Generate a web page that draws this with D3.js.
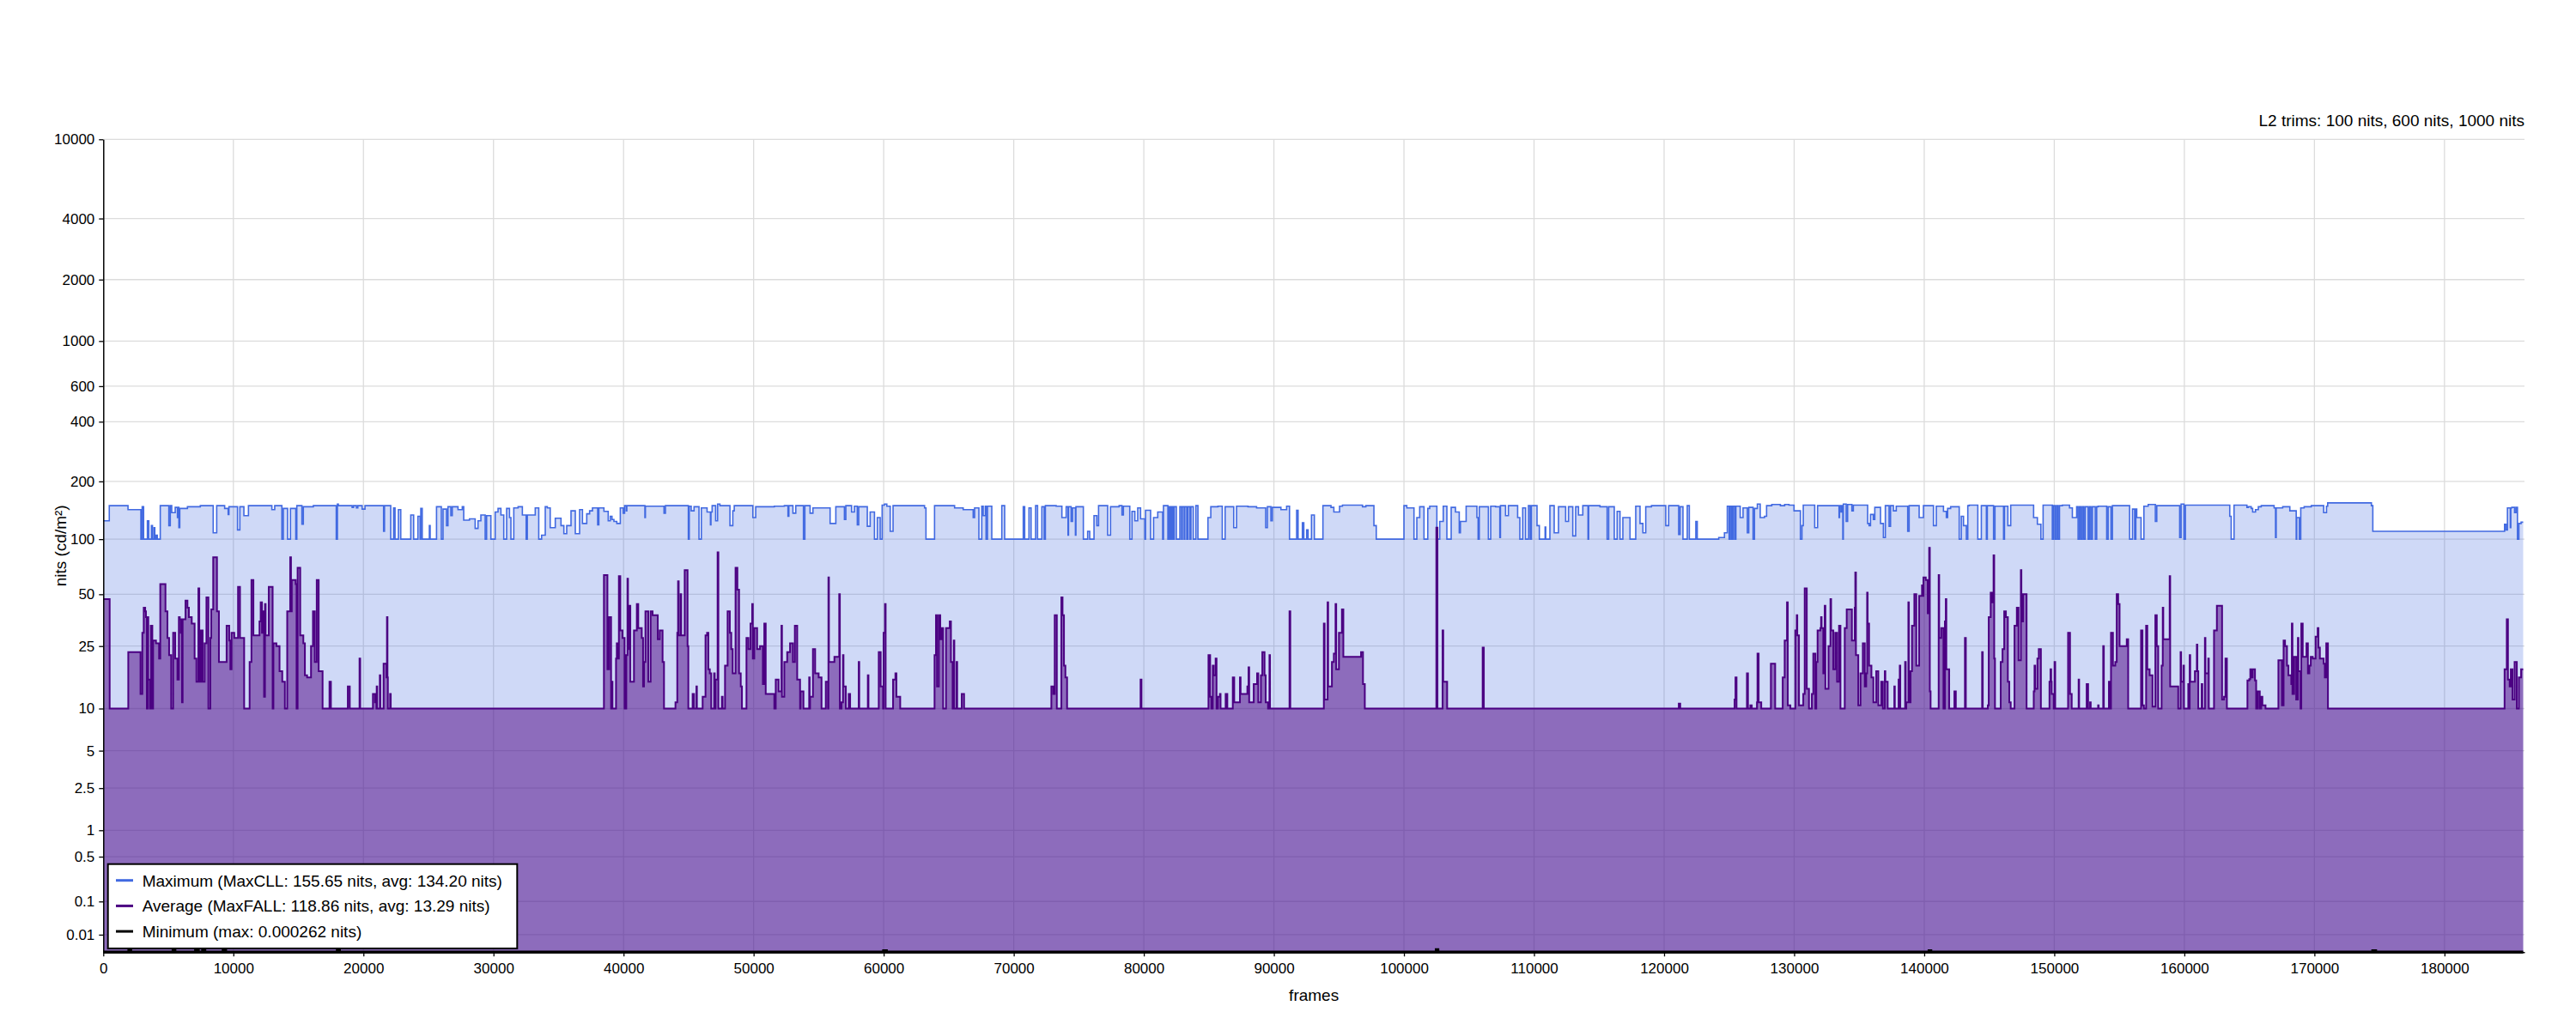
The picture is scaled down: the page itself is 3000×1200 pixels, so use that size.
<!DOCTYPE html>
<html>
<head>
<meta charset="utf-8">
<script src="https://cdn.jsdelivr.net/npm/d3@7"></script>
<style>
body { margin: 0; background: #fff; }
text { font-family: "Liberation Sans", Arial, sans-serif; }
</style>
</head>
<body>
<script>
var width = 3000,
    height = 1200;

var titleText = "L2 trims: 100 nits, 600 nits, 1000 nits";
var yTickNits = [10000, 4000, 2000, 1000, 600, 400, 200, 100, 50, 25, 10, 5, 2.5, 1, 0.5, 0.1, 0.01];
var yTickLabels = ["10000", "4000", "2000", "1000", "600", "400", "200", "100", "50", "25", "10", "5", "2.5", "1", "0.5", "0.1", "0.01"];
var xTicks = [0, 10000, 20000, 30000, 40000, 50000, 60000, 70000, 80000, 90000, 100000, 110000, 120000, 130000, 140000, 150000, 160000, 170000, 180000];
var lastFrame = 186050;
var legendLabels = ["Maximum (MaxCLL: 155.65 nits, avg: 134.20 nits)",
                    "Average (MaxFALL: 118.86 nits, avg: 13.29 nits)",
                    "Minimum (max: 0.000262 nits)"];

// [first frame, nits] steps
var maxSteps = [[0,125],[460,150],[1900,143],[2890,100],[2990,148],[3100,100],[3390,125],[3500,100],[3700,118],[3780,100],[3900,115],[3960,100],[4050,105],[4150,100],
[4380,150],[5040,118],[5150,150],[5260,138],[5530,147],[5700,130],[5760,147],[5810,115],[5880,145],[6470,148],[7460,150],[8450,108],[8720,150],[9330,145],[9600,135],[9660,148],
[10320,112],[10500,148],[10810,133],[11160,150],[12960,143],[13180,150],[13730,100],[13840,145],[14170,100],[14390,145],[14800,100],[14880,150],[15270,120],[15380,148],[16150,150],[17910,100],[18000,153],[18070,150],
[19130,147],[19240,150],[19460,146],[19570,150],[19900,144],[20120,150],[21550,110],[21620,150],[22100,100],[22320,146],[22430,100],[22690,143],[22870,100],[23640,134],[23860,100],[24190,132],[24360,100],[24410,145],[24520,100],[25070,118],[25130,100],
[25620,148],[25990,100],[26120,144],[26390,118],[26500,148],[26720,133],[26830,148],[27270,143],[27600,148],[27710,126],[28150,128],[28590,114],[28810,125],[29030,134],[29360,100],[29470,133],[29800,100],[30130,139],[30350,145],[30570,134],[30790,100],
[31010,145],[31230,130],[31340,100],[31560,146],[31890,148],[32220,134],[32510,100],[32600,134],[33210,146],[33480,100],[33700,105],[33980,148],[34140,146],[34360,115],[34750,129],[35190,118],[35410,107],[35630,118],[35960,141],[36290,107],[36620,143],[36840,121],[37170,136],[37390,141],
[37610,146],[38010,119],[38100,146],[38490,140],[38820,125],[38980,132],[39110,127],[39260,124],[39480,121],[39750,146],[39970,137],[40080,150],[40210,141],[40250,150],[41640,130],[41680,149],[43110,137],[43220,150],[44980,100],[45050,149],[45200,141],[45420,148],[45800,100],[45980,146],
[46420,139],[46680,119],[46720,139],[46810,150],[47080,125],[47230,153],[47410,150],[48180,118],[48400,141],[48510,150],[49940,130],[50160,148],[51590,149],[52360,150],[52640,132],[52710,150],[53020,137],[53240,150],[53830,100],[53940,150],[54340,137],[54560,146],
[55880,121],[56320,148],[56980,127],[57090,150],[57530,139],[57750,149],[57970,119],[58080,148],[58740,117],[58960,139],[59290,100],[59510,130],[59730,100],[59880,151],[60060,153],[60240,149],[60500,110],[60720,150],[63140,146],[63250,100],[63910,150],
[65450,146],[66110,143],[66880,130],[66990,146],[67320,100],[67540,149],[67650,133],[67810,149],[67870,100],[67980,149],[68310,100],[69080,150],[69300,100],
[70730,148],[70840,100],[71170,146],[71330,100],[71680,150],[71830,100],[72160,148],[72340,100],[72430,150],[73260,149],[73700,130],[74030,148],[74170,105],[74210,148],[74410,124],[74520,146],[74740,105],[74780,148],[75350,100],[75680,110],[75840,100],
[76170,133],[76390,118],[76520,150],[77220,105],[77440,148],[78100,150],[78320,134],[78430,149],[78920,100],[79090,140],[79310,125],[79530,146],[79750,128],[80080,100],[80130,142],[80520,100],[80750,130],[81070,139],[81450,100],[81510,150],[81850,100],
[81900,148],[82000,100],[82060,148],[82150,100],[82200,148],[82280,100],[82340,148],[82500,100],[82770,148],[82900,100],[82960,148],[83100,100],[83150,148],[83300,100],[83400,148],[83550,100],[83620,148],[83800,100],[84000,150],[84160,100],
[84930,130],[85150,148],[85700,149],[86030,100],[86250,148],[86910,115],[87130,149],[88010,148],[88670,146],[89370,115],[89500,148],[89770,125],[89880,147],[90540,143],[90980,149],[91200,100],[91750,142],[91860,100],[92190,122],[92300,100],[92520,112],[92630,100],
[92890,134],[93110,100],[93770,150],[94390,147],[94610,139],[95050,149],[95270,151],[96810,148],[97070,150],[97690,118],[97870,100],[100000,150],[100220,146],[100770,100],
[100990,130],[101210,148],[101540,100],[101830,145],[101980,149],[102530,100],[102750,124],[103020,149],[103300,100],[103630,147],[103960,139],[104250,108],[104340,124],[104780,149],[105610,130],[105700,100],[105790,148],[106490,100],[106670,149],[107040,148],
[107370,102],[107420,150],[107810,133],[108030,150],[108740,130],[108910,100],[109130,146],[109350,100],[109570,150],[109700,100],[109800,150],[110230,118],[110410,100],[110850,116],[110900,100],[111220,150],[111550,108],[111880,148],[112430,124],[112650,148],
[112980,104],[113200,148],[113420,134],[113750,150],[114150,100],[114200,150],[115070,148],[115620,100],[115740,148],[116170,100],[116390,140],[116610,100],[116830,130],[117170,130],[117380,100],[117820,149],[118150,121],[118370,108],[118590,148],[119030,150],
[120130,118],[120350,150],[121120,106],[121230,148],[121450,100],[121780,150],[121940,100],[122440,124],[122550,100],[124200,102],[124640,108],[124860,149],[125000,100],[125090,149],[125200,100],[125300,149],[125420,100],[125520,149],[125850,130],[126070,146],
[126400,108],[126510,147],[126840,100],[126950,145],[127170,153],[127390,130],[127720,132],[127880,150],[128280,152],[128940,150],[129270,152],[129600,151],[129990,141],[130480,100],[130600,118],[130700,151],[131580,115],[131800,150],
[132680,150],[133450,130],[133490,150],[133600,139],[133650,150],[133740,100],[133780,153],[134000,124],[134110,152],[134440,141],[134550,151],[135650,121],[135760,118],[135870,135],[136090,127],[136200,147],[136640,121],[136860,102],[137010,150],[137300,117],
[137410,150],[137630,141],[137850,149],[138730,110],[138840,150],[139610,130],[139940,150],[140710,118],[140930,149],[141480,140],[141700,130],[141800,145],[142030,148],[142690,100],[142850,132],[143020,118],[143240,100],[143350,150],[143460,151],[144120,100],
[144390,150],[144780,100],[144850,150],[145330,100],[145440,149],[146100,100],[146170,149],[146430,118],[146650,151],[148410,130],[148700,120],[148970,100],[149140,151],[149850,100],[149950,150],[150070,100],[150180,150],[150290,100],[150400,150],[150620,151],
[151170,146],[151390,130],[151720,148],[151830,100],[151940,148],[152050,100],[152160,148],[152270,100],[152380,148],[152600,100],[152710,148],[152820,100],[152930,148],[153150,100],[153260,148],[153370,149],[154030,100],[154140,148],[154360,100],[154470,150],
[155790,100],[156010,144],[156180,100],[156270,144],[156340,130],[156670,100],[156890,149],[157220,152],[157770,124],[157880,150],[159640,102],[159750,153],[159970,100],[160080,151],[163490,132],[163600,100],
[163820,151],[164810,147],[164920,148],[165140,145],[165250,139],[165470,143],[165690,148],[165910,150],[166900,146],[167010,102],[167060,146],[167560,148],[168110,141],[168440,141],[168600,100],[168640,130],[168840,100],[168950,146],[169210,148],[169760,150],
[170710,138],[170930,149],[171020,155],[174380,150],[174490,110],[184620,120],[184730,112],[184840,146],[185060,115],[185100,146],[185170,147],[185390,138],[185500,147],[185610,100],[185720,121],[185890,123]];

var avgSteps = [[0,47],[490,10],[1920,23],[2860,12.5],[3000,30],[3110,42],[3220,40],[3280,37],[3350,10],[3410,37],[3460,15.5],[3580,10],[3650,33],[3770,10],[3830,27],[4050,26],[4290,21],[4380,57],[4780,40],[4930,28],[5060,22],[5220,10],
[5370,30],[5530,21],[5700,15.5],[5810,37],[5880,36],[5960,30],[6000,36],[6050,11],[6100,36],[6320,46],[6470,42],[6580,37],[6800,34],[7020,21],[7160,15],[7310,54],[7380,15],[7510,31],[7640,15],[7790,26],[7930,48],[8080,10],[8230,28],[8300,41],[8450,80],[8740,40],
[8890,20],[9480,33],[9680,27],[9770,18],[9860,30],[10070,28],[10360,55],[10510,28],[10830,10],[11250,20],[11390,60],[11540,29],[12010,35],[12100,45],[12200,30],[12280,40],[12360,12],[12430,44],[12480,29],[12720,55],[13020,10],[13080,26],[13310,25],[13550,17.5],
[13760,15],[13960,10],[14140,40],[14370,80],[14430,40],[14490,60],[14790,57],[14860,10],[14940,70],[15140,29],[15380,26],[15500,16.5],[15670,16],[15970,25],[16120,40],[16260,20],[16410,60],[16560,17.5],[16860,10],[17390,15],[17500,10],
[18800,14],[18950,10],[19700,21],[19750,10],[20730,12.5],[20890,11],[21000,10],[21020,14],[21060,10],[21260,16.5],[21300,10],[21550,19.5],[21770,16],[21810,37],[21850,16],[21880,10],[22050,12.5],[22100,10],
[38490,64],[38760,18],[38890,37],[39040,10],[39110,15],[39150,10],[39420,21],[39480,26],[39550,21],[39640,63],[39750,31],[39920,28],[40080,10],[40210,22],[40300,61],[40340,24],[40470,43],[40520,15],[40800,31],[41020,44],[41130,32],[41400,28],[41500,14],[41570,20],
[41680,40],[41900,15],[42080,40],[42230,38],[42630,27.5],[42780,31],[43000,20],[43110,10],[43990,11],[44130,30],[44190,59],[44240,29],[44390,50],[44430,29],[44700,68],[44920,25],[44980,10],[45310,12.5],[45420,10],[45600,14],[45640,10],[46080,12],[46300,29],
[46420,30],[46520,18],[46630,17],[46740,10],[46960,17],[47010,10],[47070,15.5],[47230,85],[47290,10],[47560,12],[47620,10],[47800,19],[48000,40],[48170,30],[48280,24],[48390,17],[48610,70],[48750,53],[48880,17],[49010,14],[49100,10],[49450,28],[49600,24],
[49760,34],[49890,44],[49940,21],[50050,32],[50270,24],[50490,25],[50710,14.5],[50820,34],[50930,12.5],[51590,10],[51700,15.5],[51920,13],[52140,33],[52180,12],[52360,20],[52580,23],[52800,26],[53020,20],[53170,33],[53350,15.5],[53570,10],[53610,13],[53830,10],
[54270,16],[54310,10],[54340,12],[54560,24],[54730,17],[55000,16],[55220,10],[55550,15],[55720,10],[55750,62],[55790,20],[56210,21.5],[56580,50],[56630,10],[56760,11],[56870,22],[56910,14],[57090,10],[57310,12.5],[57420,10],[58080,20],[58120,10],[58780,16.5],
[58830,10],[59620,23],[59770,14],[59950,10],[59990,30],[60100,44],[60150,10],[60720,15.5],[60900,17],[60980,12],[61270,10],[63910,22],[64020,38],[64100,14],[64240,38],[64350,27.5],[64460,32],[64570,10],[64790,32],[65080,35],[65170,20],[65300,10],[65390,27],
[65430,10],[65600,20],[65650,10],[66000,12.5],[66180,10],
[72890,14],[73040,12.5],[73150,38],[73310,10],[73660,48],[73750,38],[73860,19],[73970,16],[74100,10],[79750,15.5],[79820,10],[84970,22],[85100,12],[85190,10],[85300,19],[85370,16.5],[85520,21],[85590,10],[85700,12],[85850,12.5],[85900,10],[86290,12.5],[86420,10],
[86840,16],[86950,11],[87390,16],[87440,12.5],[87960,14],[88050,18.5],[88100,11],[88450,14.5],[88710,17],[88800,11],[89000,16.5],[89110,23],[89280,16.5],[89370,11],[89550,10],[89660,22],[89700,10],[91200,40],[91260,10],[93840,34],[93900,11.5],[94130,45],
[94170,14],[94460,20],[94610,22.5],[94740,44],[94790,18],[95000,30],[95230,41],[95340,21.5],[96700,23],[96850,14.5],[96990,10],
[102490,115],[102575,10],[102970,31],[103020,15],[103320,10],[106050,24.5],[106140,10],[121130,10.8],[121240,10],[125420,11.5],[125490,16],[125570,10],[126370,17],[126450,10],[126630,10.5],[126740,10],[127140,11],[127180,22.5],[127270,11],[127470,10],
[128210,19.5],[128540,10],[129120,16],[129270,27],[129450,45],[129510,10.5],[129710,10],[130090,31],[130200,38],[130240,29],[130370,10.5],[130700,12.5],[130810,54],[130970,13.5],[131140,10],[131360,12.5],[131470,22.5],[131630,10],[131700,20],[131800,31],
[132020,32],[132070,37],[132110,32],[132240,17],[132350,43],[132400,13.5],[132640,25],[132790,47],[132840,31],
[133010,18],[133160,30],[133300,15],[133450,33],[133560,10],[133890,32],[134040,41],[134440,27],[134660,42],[134700,66],[134750,22],[134930,10.5],[135100,17],[135280,26],[135430,14],[135540,17],[135610,51],[135650,34],[135760,19],[135940,16],[136090,11],
[136310,17.5],[136470,10.5],[136690,15],[136820,10],[136970,17.5],[137010,15],[137190,10],[137700,14],[137740,10],[138030,15.5],[138070,10],[138120,19],[138160,10],[138530,20],[138580,10],[138620,11],[138780,45],[138820,11],[138950,17.5],[139060,33],[139240,50],
[139390,19],[139610,49],[139830,56],[139880,49],[139940,62],[140120,60],[140270,39],[140380,90],[140430,13],[140490,10],[141110,64],[141150,28],[141310,32],[141480,10],[141590,35],[141660,47],[141700,18],[141920,10],[142320,13],[142430,10],[143130,28],[143200,10],
[144450,23],[144500,10],[144890,10.5],[144960,37],[145110,51],[145220,45],[145330,82],[145380,21],[145440,10],[145880,20],[146020,24],[146150,40],[146280,37],[146430,15],[146540,11],[146650,10],[146940,33],[147120,42],[147250,20.5],[147430,68],[147470,35],
[147600,50],[147870,10],[148420,13],[148480,19],[148530,13.5],[148700,21],[148810,24],[148970,10],[149630,15],[149710,18],[149760,15],[149800,12.5],[149960,10],[150020,20],[150070,10],[151060,30],[151210,12.5],[151340,10],[151870,15.5],[151910,10],[152490,14.5],
[152600,10],[152750,11],[152800,10],[153370,10.5],[153410,10],[153760,25],[153810,10],[154200,15],[154250,10],[154360,30],[154510,19],[154690,20],[154800,50],[154910,44],[155020,25],[155570,27.5],[155680,10],[156670,31],[156780,10.5],[156890,10],[157060,33],
[157150,18],[157330,16.5],[157550,10.3],[157770,38],[157880,25],[157990,10],[158250,19],[158340,42],[158380,27.5],[158870,63],[158910,14],[159530,10],[159710,23],[159750,15],[159930,19],[159970,10],[160300,14.5],[160370,10],[160410,22],[160450,15],[160810,17.5],
[160960,25.5],[161000,17.5],[161070,10],[161330,14.5],[161380,10],[161580,28],[161620,17],[161840,21],[161880,10],[162280,31],[162500,43],[162900,11.5],[163050,12],[163160,21],[163270,10],
[164850,15.3],[164990,15.6],[165070,18],[165140,16],[165250,18],[165430,15.3],[165520,10],[165650,13],[165800,10],[165910,12],[166000,10.5],[166240,10],[167230,20.5],[167500,10.5],[167630,27],[167740,25],[167890,19],[168000,16.5],[168220,14.5],[168265,34],
[168310,12.5],[168440,21.5],[168600,11.5],[168730,28],[168770,17.5],[168930,10],[168990,34],[169100,21.5],[169390,26],[169500,17],[169610,19],[169720,21.5],[169870,21],[170090,28.5],[170250,32],[170310,24.5],[170420,21],[170710,19.5],[170800,16],[170910,26],
[171040,10],[184620,18],[184790,36],[184880,15.5],[185010,14],[185100,18],[185230,11.5],[185390,20],[185560,10],[185720,16],[185890,18]];

var minSteps = [[0,0],[1970,0.0002],[2100,0],[5370,0.0001],[5500,0],[7100,0.0002],[7300,0],[7640,0.0001],[7800,0],[9220,0.0002],[9400,0],[18000,0.0002],[18150,0],
[60000,0.0001],[60200,0],[102490,0.000262],[102600,0],[140380,0.0001],[140500,0],[174490,0.0001],[174700,0]];

// SMPTE ST 2084 (PQ) encoding of nits
function pq(n) {
    var m1 = 0.1593017578125, m2 = 78.84375,
        c1 = 0.8359375, c2 = 18.8515625, c3 = 18.6875;
    var p = Math.pow(Math.max(n, 0) / 10000, m1);
    return Math.pow((c1 + c2 * p) / (1 + c3 * p), m2);
}

var plotLeft = 120.3, plotRight = 2940, plotTop = 162.3, plotBottom = 1109.3;

var xScale = d3.scaleLinear()
    .domain([0, 186150])
    .range([plotLeft, plotRight]);

var yScale = d3.scaleLinear()
    .domain([0, 1])
    .range([plotBottom, plotTop]);

function withEnd(steps) {
    return steps.concat([[lastFrame, steps[steps.length - 1][1]]]);
}

var svg = d3.select("body")
    .append("svg")
    .attr("width", width)
    .attr("height", height)
    .style("display", "block");

svg.append("rect").attr("width", width).attr("height", height).attr("fill", "#fff");

//grid
var grid = svg.append("g");
grid.selectAll("line.h")
    .data(yTickNits)
    .enter()
    .append("line")
    .attr("x1", plotLeft).attr("x2", plotRight)
    .attr("y1", function(d) { return yScale(pq(d)); })
    .attr("y2", function(d) { return yScale(pq(d)); })
    .attr("stroke", "#dcdcdc")
    .attr("stroke-width", 1.3);
grid.selectAll("line.v")
    .data(xTicks.slice(1))
    .enter()
    .append("line")
    .attr("y1", plotTop).attr("y2", plotBottom)
    .attr("x1", function(d) { return xScale(d); })
    .attr("x2", function(d) { return xScale(d); })
    .attr("stroke", "#dcdcdc")
    .attr("stroke-width", 1.3);

function drawSeries(steps, color, fillOpacity, lineWidth) {
    var data = withEnd(steps);
    var area = d3.area()
        .curve(d3.curveStepAfter)
        .x(function(d) { return xScale(d[0]); })
        .y0(yScale(0))
        .y1(function(d) { return yScale(pq(d[1])); });
    var line = d3.line()
        .curve(d3.curveStepAfter)
        .x(function(d) { return xScale(d[0]); })
        .y(function(d) { return yScale(pq(d[1])); });
    svg.append("path")
        .datum(data)
        .attr("d", area)
        .attr("fill", color)
        .attr("fill-opacity", fillOpacity);
    svg.append("path")
        .datum(data)
        .attr("d", line)
        .attr("fill", "none")
        .attr("stroke", color)
        .attr("stroke-width", lineWidth);
}

drawSeries(maxSteps, "rgb(65,105,225)", 0.25, 1.6);
drawSeries(avgSteps, "rgb(75,0,130)", 0.5, 2);
drawSeries(minSteps, "#000", 1, 3.5);

//axes
var yAxis = d3.axisLeft(yScale)
    .tickValues(yTickNits.map(pq))
    .tickFormat(function(d, i) { return yTickLabels[i]; })
    .tickSize(5)
    .tickSizeOuter(0)
    .tickPadding(5);

var xAxis = d3.axisBottom(xScale)
    .tickValues(xTicks)
    .tickFormat(d3.format("d"))
    .tickSize(5)
    .tickSizeOuter(0)
    .tickPadding(8);

var gy = svg.append("g")
    .attr("transform", "translate(" + plotLeft + ",0)")
    .call(yAxis);
var gx = svg.append("g")
    .attr("transform", "translate(0," + plotBottom + ")")
    .call(xAxis);

[gx, gy].forEach(function(g) {
    g.attr("font-family", null).attr("font-size", null);
    g.selectAll("text").attr("font-size", 17).attr("fill", "#000");
    g.selectAll("line").attr("stroke", "#000").attr("stroke-width", 1.3);
    g.select(".domain").attr("stroke", "#000").attr("stroke-width", 1.5);
});

svg.append("text")
    .attr("transform", "translate(76.7," + ((plotTop + plotBottom) / 2) + ") rotate(-90)")
    .attr("text-anchor", "middle")
    .attr("font-size", 19)
    .text("nits (cd/m²)");

svg.append("text")
    .attr("x", (plotLeft + plotRight) / 2)
    .attr("y", 1166)
    .attr("text-anchor", "middle")
    .attr("font-size", 19)
    .text("frames");

svg.append("text")
    .attr("x", plotRight)
    .attr("y", 147)
    .attr("text-anchor", "end")
    .attr("font-size", 19)
    .text(titleText);

//legend
var legendColors = ["rgb(65,105,225)", "rgb(75,0,130)", "#000"];
var legend = svg.append("g");
legend.append("rect")
    .attr("x", 125.7).attr("y", 1006.7)
    .attr("width", 476.6).attr("height", 98.3)
    .attr("fill", "#fff")
    .attr("stroke", "#000")
    .attr("stroke-width", 2);
var rows = legend.selectAll("g.row")
    .data(legendLabels)
    .enter()
    .append("g")
    .attr("transform", function(d, i) { return "translate(0," + (1025.7 + i * 29.7) + ")"; });
rows.append("line")
    .attr("x1", 135).attr("x2", 155)
    .attr("stroke", function(d, i) { return legendColors[i]; })
    .attr("stroke-width", 3);
rows.append("text")
    .attr("x", 165.7)
    .attr("y", 6.8)
    .attr("font-size", 19)
    .text(function(d) { return d; });
</script>
</body>
</html>
